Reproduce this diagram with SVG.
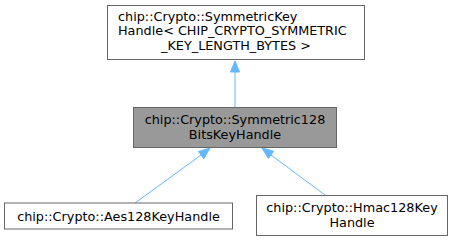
<svg xmlns="http://www.w3.org/2000/svg" width="456" height="241" viewBox="0 0 456 241">
  <defs>
    <style>
      .box { fill: #ffffff; stroke: #666666; stroke-width: 1; }
      .cur { fill: #999999; stroke: #666666; stroke-width: 1; }
      .lbl { font-family: "DejaVu Sans", sans-serif; font-size: 12.8px; fill: #000000; }
      .mid { text-anchor: middle; }
      .edge { fill: none; stroke: #63b8ff; stroke-width: 1; }
      .head { fill: #63b8ff; stroke: #63b8ff; stroke-width: 1; }
    </style>
  </defs>
  <rect width="456" height="241" fill="#ffffff"/>

  <g id="edges">
    <!-- SymmetricKeyHandle <- Symmetric128BitsKeyHandle -->
    <path class="edge" d="M235,107 L235,72"/>
    <polygon class="head" points="235,61 230.5,72 239.5,72"/>
    <!-- Symmetric128BitsKeyHandle <- Aes128KeyHandle -->
    <path class="edge" d="M135,203 L201,155"/>
    <polygon class="head" points="210,148 198.5,151.5 203.8,158.8"/>
    <!-- Symmetric128BitsKeyHandle <- Hmac128KeyHandle -->
    <path class="edge" d="M325,195 L271,155"/>
    <polygon class="head" points="262,148 268.4,158.4 273.7,151.2"/>
  </g>

  <g id="node-symmetric-key-handle">
    <rect class="box" x="107.5" y="5.5" width="257" height="54"/>
    <text class="lbl" x="118" y="20.5">chip::Crypto::SymmetricKey</text>
    <text class="lbl" x="118" y="35">Handle&lt; CHIP_CRYPTO_SYMMETRIC</text>
    <text class="lbl mid" x="236" y="49.5">_KEY_LENGTH_BYTES &gt;</text>
  </g>

  <g id="node-symmetric128-bits-key-handle">
    <rect class="cur" x="133.5" y="107.5" width="203" height="40"/>
    <text class="lbl mid" x="235" y="124">chip::Crypto::Symmetric128</text>
    <text class="lbl mid" x="235" y="138.5">BitsKeyHandle</text>
  </g>

  <g id="node-aes128-key-handle">
    <rect class="box" x="4.5" y="203" width="228" height="26"/>
    <text class="lbl mid" x="118.5" y="220.5">chip::Crypto::Aes128KeyHandle</text>
  </g>

  <g id="node-hmac128-key-handle">
    <rect class="box" x="256.5" y="195.5" width="191" height="40"/>
    <text class="lbl mid" x="352" y="212">chip::Crypto::Hmac128Key</text>
    <text class="lbl mid" x="352" y="226.5">Handle</text>
  </g>
</svg>
